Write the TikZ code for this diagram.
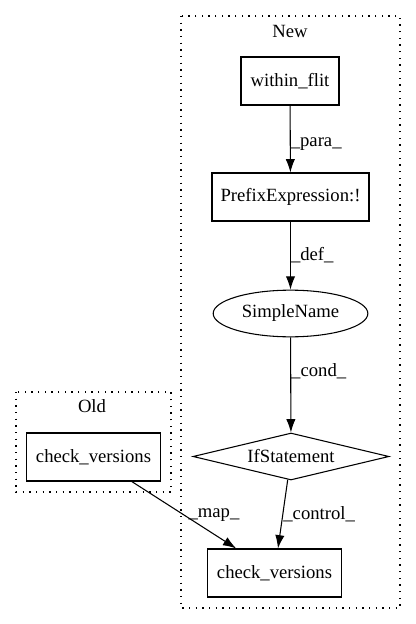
\documentclass[tikz,border=0pt]{standalone}
\usepackage{fontspec}
\setmainfont{Liberation Serif}
\usetikzlibrary{arrows.meta,shapes.geometric}
\begin{document}
\begin{tikzpicture}[x=0.75pt, y=-0.75pt, >={Latex[length=10pt,width=7pt]},
  font=\fontsize{14pt}{16pt}\selectfont,
  box/.style={draw, thick, inner sep=0pt},
  cluster/.style={thick, dash pattern=on 1pt off 4pt},
  lab/.style={right, inner sep=0pt}]
\useasboundingbox (0,0) rectangle (416,624);
\draw[cluster] (181,16) rectangle (400,608);
\node (newlab) at (290,31) {New};
\draw[cluster] (16,392) rectangle (171,492);
\node (oldlab) at (92,406) {Old};

\node[box, minimum width=73.5pt, minimum height=36pt] (flit) at (290,81) {within\_flit};
\node[box, minimum width=117.75pt, minimum height=36pt] (prefix) at (290.5,197) {PrefixExpression:!};
\node[box, ellipse, minimum width=116pt, minimum height=35pt] (simple) at (290.5,313.5) {SimpleName};
\node[box, diamond, aspect=4.2, minimum width=147pt, minimum height=35.25pt] (ifst) at (291,456.5) {IfStatement};
\node[box, minimum width=100pt, minimum height=36pt] (newcheck) at (274.5,573) {check\_versions};
\node[box, minimum width=101pt, minimum height=36pt] (oldcheck) at (93.5,457) {check\_versions};

\draw[->, thick] (flit)--node[lab, pos=0.58]{\_para\_}(prefix);
\draw[->, thick] (prefix)--node[lab, pos=0.5]{\_def\_}(simple);
\draw[->, thick] (simple)--node[lab, pos=0.36]{\_cond\_}(ifst);
\draw[->, thick] (ifst)--node[lab, pos=0.5]{\_control\_}(newcheck);
\draw[->, thick] (oldcheck)--node[lab, pos=0.5, xshift=3pt]{\_map\_}(newcheck);

    \end{tikzpicture}
\end{document}
